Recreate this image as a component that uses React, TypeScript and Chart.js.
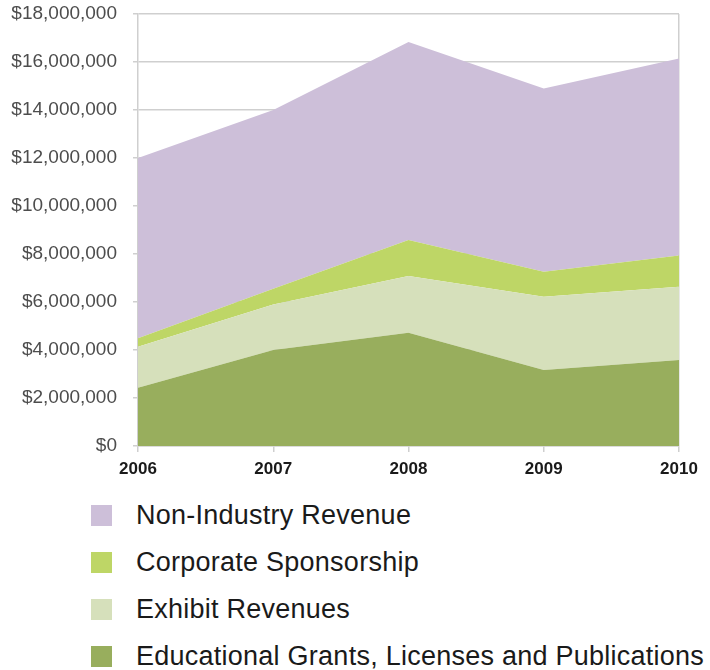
import React, { useEffect, useRef } from 'react';
import { Chart, registerables } from 'chart.js';
Chart.register(...registerables);

const years = ['2006', '2007', '2008', '2009', '2010'];
const educational = [2430000, 4000000, 4720000, 3170000, 3580000];
const exhibit = [1710000, 1900000, 2360000, 3050000, 3060000];
const corporate = [350000, 650000, 1500000, 1040000, 1300000];
const nonIndustry = [7510000, 7450000, 8250000, 7640000, 8210000];

const seriesNames = [
  'Educational Grants, Licenses and Publications',
  'Exhibit Revenues',
  'Corporate Sponsorship',
  'Non-Industry Revenue',
];
const seriesColors = ['#98ae5d', '#d6e0bb', '#bed666', '#cdbfd9'];
const seriesData = [educational, exhibit, corporate, nonIndustry];

const FONT = '"Liberation Sans", Arial, Helvetica, sans-serif';

export default function App() {
  const ref = useRef<HTMLCanvasElement>(null);

  useEffect(() => {
    if (!ref.current) return;
    const chart = new Chart(ref.current, {
      type: 'line',
      data: {
        labels: years,
        datasets: seriesNames.map((name, i) => ({
          label: name,
          data: seriesData[i],
          backgroundColor: seriesColors[i],
          borderColor: seriesColors[i],
          borderWidth: 0,
          pointRadius: 0,
          tension: 0,
          fill: i === 0 ? 'origin' : '-1',
        })),
      },
      options: {
        animation: false,
        responsive: false,
        maintainAspectRatio: false,
        layout: { padding: { top: 14, right: 31, left: 0, bottom: 0 } },
        plugins: { legend: { display: false }, tooltip: { enabled: false } },
        scales: {
          x: {
            offset: false,
            grid: {
              color: (ctx: any) => (ctx.index === years.length - 1 ? '#cfcfcf' : 'rgba(0,0,0,0)'),
              tickColor: '#cfcfcf',
              tickLength: 6,
              lineWidth: 1.5,
            },
            border: { color: '#cfcfcf', width: 1.5 },
            ticks: {
              color: '#1a1a1a',
              font: { family: FONT, size: 17, weight: 'bold' },
              padding: 7,
              maxRotation: 0,
            },
            afterFit: (s: any) => { s.height = 34; },
          },
          y: {
            stacked: true,
            min: 0,
            max: 18000000,
            grid: { color: '#cfcfcf', lineWidth: 1.5, tickLength: 5, tickColor: '#cfcfcf' },
            border: { color: '#cfcfcf', width: 1.5 },
            ticks: {
              stepSize: 2000000,
              color: '#4d4d4d',
              padding: 16,
              font: { family: FONT, size: 19 },
              callback: (v: any) => '$' + Number(v).toLocaleString('en-US'),
            },
            afterFit: (s: any) => { s.width = 138; s.paddingTop = 0; s.paddingBottom = 0; },
          },
        },
      },
    });
    return () => chart.destroy();
  }, []);

  const legendOrder = [3, 2, 1, 0];

  return (
    <div style={{ position: 'absolute', left: 0, top: 0, width: 710, height: 670, background: '#fff' }}>
      <canvas ref={ref} width={710} height={480} style={{ display: 'block', width: 710, height: 480 }} />
      {legendOrder.map((si, row) => (
        <div
          key={si}
          style={{
            position: 'absolute',
            left: 91,
            top: 504 + row * 47,
            height: 22,
            display: 'flex',
            alignItems: 'center',
            whiteSpace: 'nowrap',
          }}
        >
          <div style={{ width: 21, height: 21, background: seriesColors[si], marginRight: 24 }} />
          <span style={{ fontFamily: FONT, fontSize: 27, letterSpacing: '0.25px', color: '#1a1a1a', lineHeight: '22px' }}>
            {seriesNames[si]}
          </span>
        </div>
      ))}
    </div>
  );
}
